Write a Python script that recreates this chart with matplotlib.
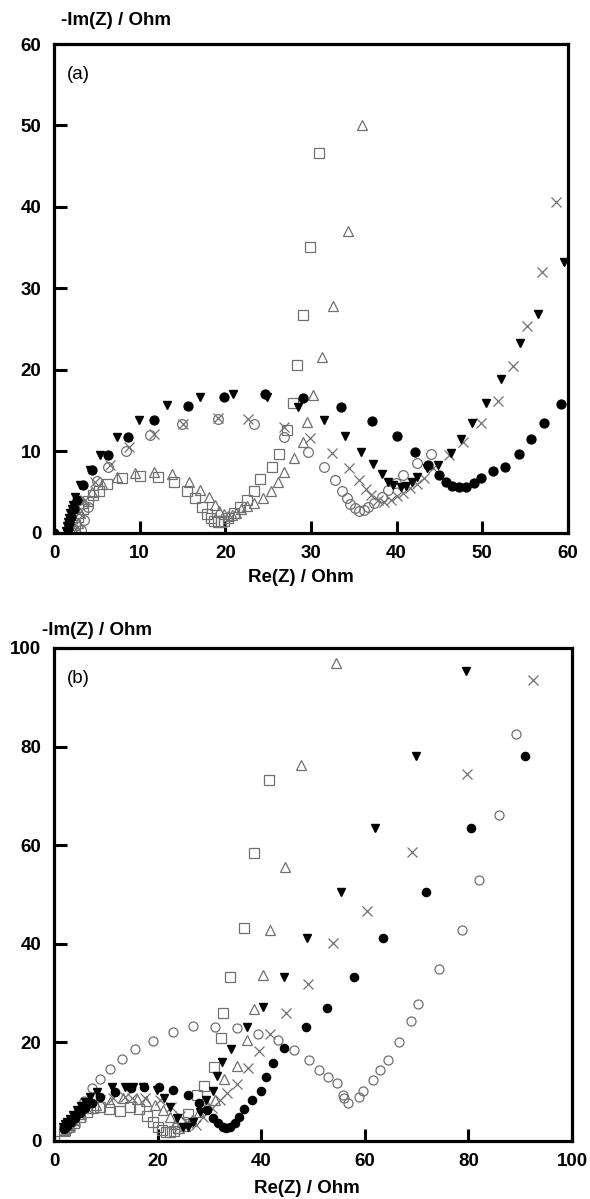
import matplotlib
matplotlib.use("Agg")
import matplotlib.pyplot as plt

# ── Style ────────────────────────────────────────────────────
plt.rcParams.update({
    "font.family": ["Liberation Sans", "DejaVu Sans"],
    "font.size": 11,
})

GRAY = "#707070"

# ── Panel (a) data ───────────────────────────────────────────
sq_a_x = [2.0, 2.4, 2.8, 3.4, 4.0, 4.6, 5.2, 6.2, 7.9, 10.1, 12.1, 14.0, 15.5, 16.5, 17.3,
          17.9, 18.3, 18.7, 19.1, 19.5, 19.9, 20.3, 21.0, 21.7, 22.5, 23.3, 24.1, 25.4,
          26.3, 27.2, 27.9, 28.4, 29.1, 29.9, 30.9]
sq_a_y = [0.3, 1.0, 1.9, 2.9, 3.9, 4.6, 5.2, 6.0, 6.8, 7.0, 6.9, 6.2, 5.2, 4.3, 3.2,
          2.3, 1.8, 1.5, 1.4, 1.4, 1.5, 1.8, 2.5, 3.2, 4.1, 5.2, 6.6, 8.1,
          9.7, 12.6, 16.0, 20.6, 26.7, 35.1, 46.6]

tri_a_x = [2.7, 2.8, 3.0, 3.4, 4.4, 5.6, 7.3, 9.5, 11.7, 13.8, 15.8, 17.1, 18.1, 18.8,
           19.3, 19.8, 20.3, 20.8, 21.3, 21.8, 22.5, 23.3, 24.4, 25.3, 26.1, 26.9, 28.0,
           29.1, 29.5, 30.3, 31.3, 32.6, 34.3, 36.0]
tri_a_y = [0.4, 1.2, 2.5, 3.7, 5.0, 6.0, 6.9, 7.4, 7.5, 7.2, 6.3, 5.3, 4.4, 3.4,
           2.7, 2.3, 2.1, 2.2, 2.5, 3.0, 3.3, 3.7, 4.3, 5.2, 6.3, 7.5, 9.2,
           11.2, 13.6, 16.9, 21.6, 27.9, 37.1, 50.1]

circ_a_x = [3.2, 3.5, 4.0, 5.0, 6.3, 8.4, 11.2, 15.0, 19.1, 23.3, 26.9, 29.6, 31.5, 32.8,
            33.6, 34.2, 34.6, 35.1, 35.6, 36.2, 36.7, 37.4, 38.3, 39.0, 39.9, 40.8, 42.4, 44.0]
circ_a_y = [0.4, 1.6, 3.2, 6.4, 8.1, 10.1, 12.0, 13.4, 14.0, 13.4, 11.8, 9.9, 8.1, 6.5,
            5.2, 4.3, 3.6, 3.1, 2.7, 2.8, 3.2, 3.7, 4.4, 5.3, 6.1, 7.1, 8.6, 9.7]

x_a_x = [2.4, 2.9, 3.6, 4.8, 6.5, 8.8, 11.7, 15.1, 19.1, 22.7, 26.8, 29.9, 32.5, 34.4,
         35.6, 36.4, 37.0, 37.8, 38.5, 39.3, 40.1, 40.8, 41.6, 42.4, 43.2, 44.3, 46.1,
         47.8, 49.8, 51.8, 53.6, 55.2, 57.0, 58.6]
x_a_y = [1.0, 2.5, 4.1, 6.3, 8.4, 10.6, 12.2, 13.4, 14.1, 14.0, 13.0, 11.6, 9.8, 8.0,
         6.5, 5.4, 4.6, 4.0, 3.8, 4.1, 4.5, 4.9, 5.5, 6.0, 6.7, 8.0, 9.6,
         11.2, 13.5, 16.2, 20.5, 25.4, 32.0, 40.6]

dtri_a_x = [1.4, 1.5, 1.6, 1.8, 1.9, 2.1, 2.2, 2.5, 3.0, 4.2, 5.4, 7.3, 9.9, 13.2, 17.0,
            20.9, 24.9, 28.5, 31.5, 34.0, 35.9, 37.2, 38.3, 39.0, 39.6, 40.5, 41.1, 41.8,
            42.4, 43.6, 44.8, 46.3, 47.5, 48.8, 50.4, 52.2, 54.4, 56.5, 59.5]
dtri_a_y = [0.3, 0.8, 1.3, 1.8, 2.4, 3.0, 3.4, 4.4, 5.9, 7.7, 9.6, 11.8, 13.9, 15.7, 16.7,
            17.1, 16.7, 15.5, 13.9, 11.9, 9.9, 8.5, 7.2, 6.3, 5.9, 5.7, 5.8, 6.3,
            6.9, 8.0, 8.3, 9.8, 11.5, 13.5, 15.9, 18.9, 23.3, 26.9, 33.3]

fcirc_a_x = [0.0, 1.6, 1.8, 2.0, 2.3, 2.7, 3.4, 4.4, 6.3, 8.7, 11.7, 15.6, 19.9, 24.6,
             29.1, 33.5, 37.1, 40.0, 42.1, 43.7, 44.9, 45.8, 46.5, 47.3, 48.1, 49.0, 49.9,
             51.2, 52.7, 54.3, 55.7, 57.2, 59.2]
fcirc_a_y = [0.0, 0.5, 1.2, 2.0, 2.9, 4.0, 5.9, 7.7, 9.6, 11.8, 13.9, 15.6, 16.7, 17.1,
             16.5, 15.4, 13.7, 11.9, 9.9, 8.3, 7.1, 6.3, 5.8, 5.6, 5.7, 6.1, 6.7,
             7.6, 8.1, 9.7, 11.5, 13.5, 15.8]

# ── Panel (b) data ───────────────────────────────────────────
sq_b_x = [0.0, 2.0, 2.8, 3.8, 5.0, 6.3, 7.5, 8.9, 10.6, 12.7, 14.7, 16.4, 18.0, 19.1, 20.0,
          20.8, 21.6, 22.4, 23.2, 24.0, 24.9, 25.9, 27.6, 29.0, 30.9, 32.2, 32.6, 34.0,
          36.7, 38.6, 41.5]
sq_b_y = [0.0, 2.0, 2.8, 3.7, 4.8, 5.8, 6.7, 6.9, 6.5, 6.1, 6.8, 6.5, 5.1, 3.8, 2.8,
          2.2, 1.9, 1.8, 2.0, 2.6, 3.8, 5.5, 9.3, 11.2, 15.0, 20.9, 26.0, 33.3,
          43.2, 58.4, 73.2]

tri_b_x = [2.2, 3.0, 4.0, 5.2, 6.6, 8.2, 10.8, 13.3, 16.0, 17.8, 19.5, 21.0, 22.4, 23.3,
           24.2, 25.2, 26.6, 28.0, 29.5, 31.1, 32.8, 35.3, 37.3, 38.6, 40.3, 41.7, 44.6,
           47.7, 54.4]
tri_b_y = [2.3, 3.2, 4.3, 5.5, 6.6, 7.3, 7.9, 8.7, 8.6, 8.2, 7.3, 6.3, 4.9, 3.5,
           2.7, 3.0, 4.3, 5.8, 7.3, 8.3, 12.6, 15.2, 20.5, 26.8, 33.7, 42.8, 55.6,
           76.3, 97.0]

circ_b_x = [2.5, 3.5, 4.6, 5.8, 7.3, 8.8, 10.8, 13.2, 15.6, 19.1, 23.0, 26.9, 31.1, 35.4,
            39.3, 43.2, 46.3, 49.2, 51.2, 52.9, 54.6, 55.8, 55.9, 56.8, 58.9, 59.7, 61.6,
            62.9, 64.5, 66.6, 68.9, 70.3, 74.3, 78.8, 82.0, 86.0, 89.2]
circ_b_y = [2.2, 3.8, 5.8, 8.2, 10.8, 12.5, 14.5, 16.6, 18.6, 20.2, 22.1, 23.3, 23.1, 22.9,
            21.7, 20.5, 18.5, 16.4, 14.4, 13.0, 11.8, 9.3, 8.7, 7.7, 8.9, 10.1, 12.4,
            14.4, 16.4, 20.1, 24.3, 27.8, 34.9, 42.8, 52.9, 66.1, 82.6]

fcirc_b_x = [2.0, 2.5, 3.2, 4.0, 5.0, 6.0, 7.3, 8.9, 11.8, 14.8, 17.4, 20.3, 23.0, 25.9,
             28.0, 29.5, 30.7, 31.7, 32.6, 33.3, 34.0, 34.9, 35.7, 36.7, 38.2, 40.0, 40.9,
             42.3, 44.4, 48.6, 52.7, 57.9, 63.5, 71.8, 80.5, 90.9]
fcirc_b_y = [2.5, 3.1, 3.8, 4.6, 5.6, 6.6, 7.8, 8.9, 9.9, 10.7, 11.0, 11.0, 10.3, 9.3,
             7.7, 6.3, 4.7, 3.7, 2.8, 2.6, 2.8, 3.7, 4.9, 6.5, 8.3, 10.1, 13.0,
             15.8, 18.8, 23.1, 27.0, 33.3, 41.2, 50.5, 63.5, 78.1]

dtri_b_x = [1.8, 2.1, 2.5, 3.0, 3.6, 4.4, 5.2, 6.0, 7.0, 8.3, 11.2, 13.7, 15.3, 17.2, 19.9,
            21.2, 22.4, 23.7, 24.9, 25.9, 26.9, 28.2, 29.3, 30.7, 31.5, 32.4, 34.2, 37.3,
            40.3, 44.4, 48.8, 55.4, 62.0, 69.9, 79.5]
dtri_b_y = [2.9, 3.5, 3.9, 4.5, 5.2, 6.3, 7.1, 7.9, 8.9, 9.9, 11.0, 11.0, 11.0, 11.0, 10.3,
            8.8, 6.9, 4.7, 2.8, 2.8, 3.9, 5.9, 8.3, 10.1, 13.2, 16.0, 18.7, 23.1,
            27.2, 33.3, 41.2, 50.5, 63.5, 78.1, 95.3]

x_b_x = [2.2, 3.0, 4.0, 5.2, 6.6, 8.9, 11.4, 13.7, 15.0, 17.6, 20.5, 22.5, 24.3, 25.9,
         27.4, 28.8, 30.5, 32.0, 33.4, 35.3, 37.5, 39.6, 41.7, 44.8, 49.0, 53.9, 60.4,
         69.1, 79.7, 92.5]
x_b_y = [2.0, 2.8, 3.8, 5.0, 6.4, 8.3, 8.8, 8.9, 8.7, 8.7, 8.3, 6.8, 5.0, 3.6,
         3.2, 4.9, 6.7, 8.3, 9.7, 11.6, 14.8, 18.3, 21.7, 26.0, 31.8, 40.2, 46.7,
         58.6, 74.4, 93.5]

LABEL_SIZE = 13.5


def marker_styles(ms):
    """Open gray markers and filled black ones, shared by both panels."""
    open_kw = dict(linestyle="none", markerfacecolor="none", markeredgecolor=GRAY,
                   markeredgewidth=0.9, markersize=ms)
    fill_kw = dict(linestyle="none", color="black", markersize=ms - 0.6)
    return open_kw, fill_kw


def style_axes(ax, xmax, ymax, step, label):
    ax.set_xlim(0, xmax)
    ax.set_ylim(0, ymax)
    ax.set_xticks(range(0, xmax + 1, step))
    ax.set_yticks(range(0, ymax + 1, step))
    for sp in ax.spines.values():
        sp.set_linewidth(2.3)
    ax.tick_params(direction="in", length=9, width=2.2, labelsize=LABEL_SIZE, pad=9)
    for t in ax.get_xticklabels() + ax.get_yticklabels():
        t.set_fontweight("bold")
    ax.text(0.025, 0.955, label, transform=ax.transAxes, fontsize=LABEL_SIZE,
            va="top", ha="left")


fig = plt.figure(figsize=(5.9, 11.99), dpi=100)

# ── Panel (a) ────────────────────────────────────────────────
ax1 = fig.add_axes([0.0915, 0.5555, 0.871, 0.4078])
o, f = marker_styles(7)
ax1.plot(sq_a_x, sq_a_y, marker="s", **o)
ax1.plot(tri_a_x, tri_a_y, marker="^", **o)
ax1.plot(circ_a_x, circ_a_y, marker="o", **o)
ax1.plot(x_a_x, x_a_y, marker="x", linestyle="none", color=GRAY,
         markeredgewidth=0.9, markersize=7)
ax1.plot(dtri_a_x, dtri_a_y, marker="v", **f)
ax1.plot(fcirc_a_x, fcirc_a_y, marker="o", **f)
style_axes(ax1, 60, 60, 10, "(a)")
fig.text(0.103, 0.983, "-Im(Z) / Ohm", fontsize=LABEL_SIZE, fontweight="bold",
         ha="left", va="center")
fig.text(0.51, 0.518, "Re(Z) / Ohm", fontsize=LABEL_SIZE, fontweight="bold",
         ha="center", va="center")

# ── Panel (b) ────────────────────────────────────────────────
ax2 = fig.add_axes([0.0915, 0.0484, 0.878, 0.4112])
o, f = marker_styles(6.5)
ax2.plot(sq_b_x, sq_b_y, marker="s", **o)
ax2.plot(tri_b_x, tri_b_y, marker="^", **o)
ax2.plot(circ_b_x, circ_b_y, marker="o", **o)
ax2.plot(x_b_x, x_b_y, marker="x", linestyle="none", color=GRAY,
         markeredgewidth=0.9, markersize=7)
ax2.plot(dtri_b_x, dtri_b_y, marker="v", **f)
ax2.plot(fcirc_b_x, fcirc_b_y, marker="o", **f)
style_axes(ax2, 100, 100, 20, "(b)")
fig.text(0.072, 0.4745, "-Im(Z) / Ohm", fontsize=LABEL_SIZE, fontweight="bold",
         ha="left", va="center")
fig.text(0.52, 0.009, "Re(Z) / Ohm", fontsize=LABEL_SIZE, fontweight="bold",
         ha="center", va="center")

fig.savefig("out.png", dpi=100)
